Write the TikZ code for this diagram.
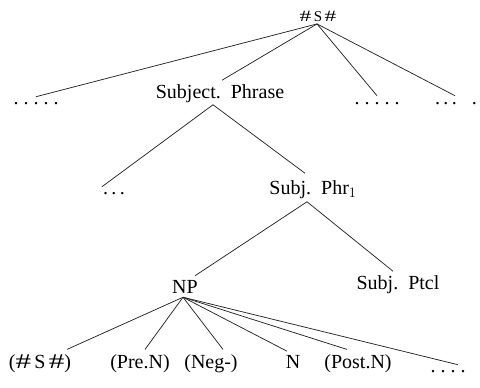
\documentclass[tikz,border=0pt]{standalone}
\usepackage{fontspec}
\setmainfont{Liberation Serif}
\usetikzlibrary{calc}
% a wide sharp sign for the boundary symbol
\newcommand{\shp}{\scalebox{1.55}[1.05]{\#}}
\begin{document}
\begin{tikzpicture}[x=1pt,y=-1pt,
  lab/.style={font=\fontsize{20}{22}\selectfont, inner sep=1.5pt},
  dots/.style={font=\fontsize{20}{22}\selectfont, inner sep=1pt, anchor=base},
  branch/.style={line width=0.75pt, black!85}]
\useasboundingbox (0,0) rectangle (480,388);

% root
\node[font=\fontsize{15}{17}\selectfont, inner sep=1.5pt] (S) at (318,16) {\shp\,S\,\shp};

% first level
\node[dots] (dl) at (36,104) {.\ .\ .\ .\ .};
\node[lab] (SP) at (220,94) {Subject.\ \ Phrase};
\node[dots] (dm) at (377,104) {.\ .\ .\ .\ .};
\node[dots] (dr) at (456,104) {.\,.\,.\hspace{15pt}.};

% second level
\node[dots] (d2) at (114,194) {.\,.\,.};
\node[lab] (SP1) at (313,190) {Subj.\ \ Phr$_1$};

% third level
\node[lab] (NP) at (185,287) {NP};
\node[lab] (Pt) at (398,285) {Subj.\ \ Ptcl};

% leaves
\node[lab, anchor=base] (hs) at (40,368) {(\shp\,S\,\shp)};
\node[lab, anchor=base] (pre) at (140,368) {(Pre.N)};
\node[lab, anchor=base] (neg) at (211,368) {(Neg-)};
\node[lab, anchor=base] (n) at (293,368) {N};
\node[lab, anchor=base] (post) at (358,368) {(Post.N)};
\node[dots] (de) at (448,372) {.\ .\ .\ .};

% branches
\coordinate (s0) at ($(S.south)+(-1,1)$);
\draw[branch] (s0) -- ($(dl.north)+(0,-4)$);
\draw[branch] (s0) -- ($(SP.north)+(2,-3)$);
\draw[branch] (s0) -- ($(dm.north)+(0,-5)$);
\draw[branch] (s0) -- ($(dr.north)+(-1,-5)$);

\coordinate (sp0) at ($(SP.south)+(-7,0)$);
\draw[branch] (sp0) -- ($(d2.north west)+(0,-4)$);
\draw[branch] (sp0) -- ($(SP1.north)+(-8,-6)$);

\coordinate (sp1) at ($(SP1.south)+(-6,1)$);
\draw[branch] (sp1) -- ($(NP.north)+(10,-3)$);
\draw[branch] (sp1) -- ($(Pt.north)+(-5,-3)$);

\coordinate (np0) at ($(NP.south)+(-2,2)$);
\draw[branch] (np0) -- ($(hs.north)+(27,-3)$);
\draw[branch] (np0) -- ($(pre.north)+(5,-3)$);
\draw[branch] (np0) -- ($(neg.north)+(12,-3)$);
\draw[branch] (np0) -- ($(n.north)+(-6,-2)$);
\draw[branch] (np0) -- ($(post.north)+(-11,-3)$);
\draw[branch] (np0) -- ($(de.north)+(10,-4)$);
\end{tikzpicture}
\end{document}
